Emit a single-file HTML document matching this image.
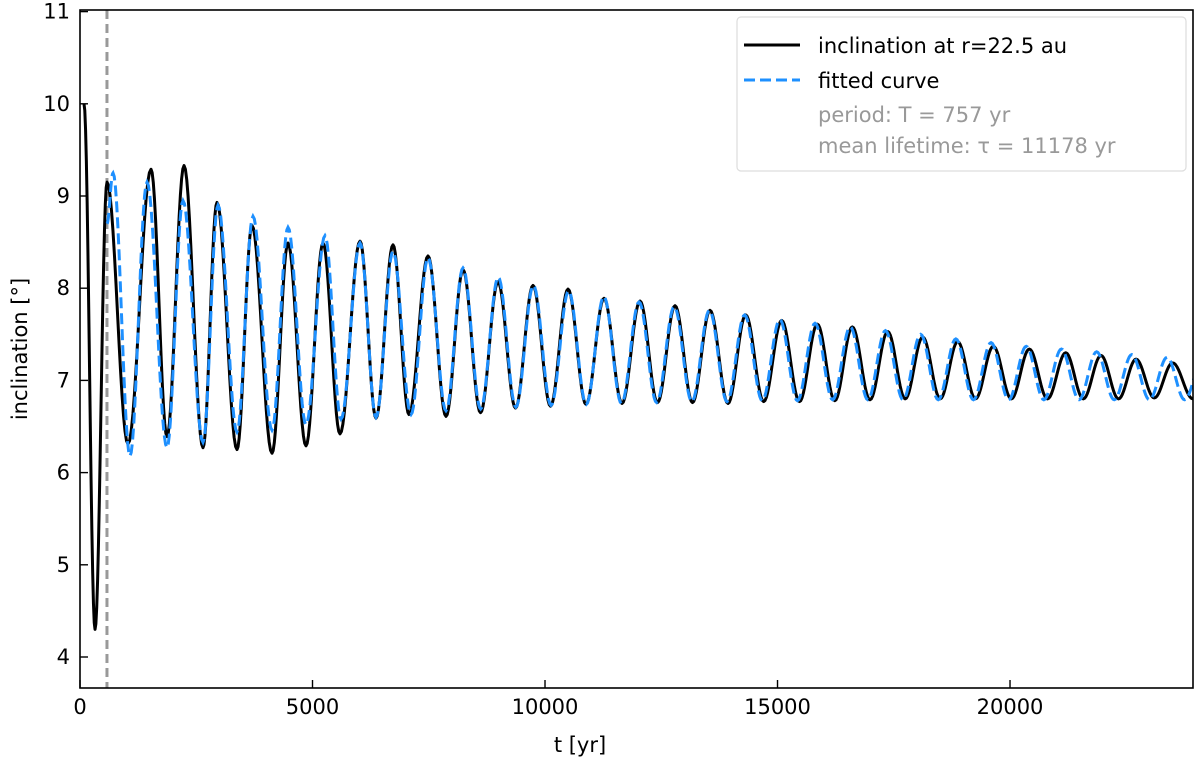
<!DOCTYPE html>
<html><head><meta charset="utf-8"><style>
body{margin:0;background:#fff;}
svg text{font-family:"DejaVu Sans","Liberation Sans",sans-serif;}
</style></head><body>
<svg id="chart" width="1200" height="763" xmlns="http://www.w3.org/2000/svg">
<defs><clipPath id="clip"><rect x="80" y="10" width="1113" height="678"/></clipPath></defs>
<g id="marks" clip-path="url(#clip)"></g>
<rect x="80" y="10" width="1113" height="678" fill="none" stroke="#000" stroke-width="1.6"/>
<g id="axes"></g>
<text x="580" y="752" font-size="21" text-anchor="middle">t [yr]</text>
<text transform="translate(27,349) rotate(-90)" font-size="21" text-anchor="middle">inclination [°]</text>
<g>
<rect x="737" y="17" width="449" height="154" rx="4" fill="#fff" fill-opacity="0.85" stroke="#ddd" stroke-width="1.2"/>
<line x1="744" y1="45" x2="800" y2="45" stroke="#000" stroke-width="3"/>
<text x="818" y="53" font-size="21">inclination at r=22.5 au</text>
<line x1="744" y1="80" x2="800" y2="80" stroke="#1e90ff" stroke-width="3" stroke-dasharray="11,5"/>
<text x="818" y="88" font-size="21">fitted curve</text>
<text x="818" y="122" font-size="21" fill="#999">period: T = 757 yr</text>
<text x="818" y="153" font-size="21" fill="#999">mean lifetime: τ = 11178 yr</text>
</g>
</svg>
<script>
const xTicks=[0,5000,10000,15000,20000];
const yTicks=[4,5,6,7,8,9,10,11];
const fitStart=580;
const simTimes=[86,323,581,1032,1527,1871,2237,2645,2946,3376,3699,4129,4473,4860,5226,5591,6022,6366,6731,7075,7484,7871,8237,8613,8989,9366,9742,10118,10495,10882,11269,11656,12043,12419,12796,13172,13548,13935,14316,14703,15090,15473,15856,16232,16609,16989,17370,17746,18123,18499,18875,19258,19641,20028,20415,20806,21198,21576,21957,22333,22710,23103,23497,23935];
const simValues=[10.0,4.3,9.15,6.31,9.29,6.39,9.33,6.27,8.93,6.25,8.68,6.21,8.49,6.29,8.49,6.42,8.51,6.59,8.47,6.63,8.35,6.61,8.20,6.65,8.07,6.7,8.03,6.72,7.99,6.74,7.89,6.75,7.86,6.76,7.81,6.76,7.76,6.75,7.71,6.77,7.65,6.77,7.61,6.78,7.58,6.79,7.53,6.8,7.47,6.8,7.42,6.8,7.37,6.8,7.34,6.8,7.30,6.8,7.27,6.8,7.23,6.81,7.19,6.8];
const fitTimes=[581,710,1075,1441,1871,2215,2645,2968,3376,3720,4129,4473,4860,5269,5613,6022,6366,6731,7118,7484,7871,8237,8616,8994,9373,9751,10130,10508,10887,11265,11644,12022,12401,12779,13158,13536,13915,14293,14672,15050,15429,15807,16186,16564,16943,17321,17700,18078,18457,18835,19214,19592,19971,20349,20728,21106,21485,21863,22242,22620,22999,23377,23756,24134];
const fitValues=[8.7,9.25,6.18,9.15,6.27,8.95,6.33,8.9,6.44,8.78,6.46,8.66,6.52,8.57,6.58,8.49,6.6,8.4,6.63,8.33,6.67,8.22,6.69,8.12,6.71,8.03,6.73,7.97,6.74,7.91,6.75,7.85,6.76,7.80,6.77,7.76,6.77,7.71,6.78,7.66,6.78,7.62,6.79,7.58,6.79,7.54,6.79,7.50,6.79,7.45,6.79,7.41,6.79,7.37,6.79,7.34,6.79,7.31,6.79,7.28,6.79,7.25,6.79,7.22];
const X=t=>80+(t/23935)*1113;
const Y=v=>657-(v-4)*92.2;
const NS='http://www.w3.org/2000/svg';
const marks=document.getElementById('marks'), axes=document.getElementById('axes');
function mk(tag,attrs,parent){const e=document.createElementNS(NS,tag);for(const k in attrs)e.setAttribute(k,attrs[k]);parent.appendChild(e);return e;}
function pathFrom(ts,vs){let d='M'+X(ts[0]).toFixed(2)+','+Y(vs[0]).toFixed(2);
 for(let i=0;i<ts.length-1;i++){for(let k=1;k<=14;k++){const s=k/14;const t=ts[i]+(ts[i+1]-ts[i])*s;const v=vs[i]+(vs[i+1]-vs[i])*(1-Math.cos(Math.PI*s))/2;d+='L'+X(t).toFixed(2)+','+Y(v).toFixed(2);}}
 return d;}
const vl=mk('line',{x1:X(fitStart),x2:X(fitStart),y1:10,y2:688,stroke:'#999','stroke-width':3,'stroke-dasharray':'9,5'},marks);


const sim=mk('path',{d:pathFrom(simTimes,simValues),fill:'none',stroke:'#000','stroke-width':3,'stroke-linejoin':'round'},marks);


const fit=mk('path',{d:pathFrom(fitTimes,fitValues),fill:'none',stroke:'#1e90ff','stroke-width':3,'stroke-dasharray':'11,5'},marks);


xTicks.forEach(t=>{const x=X(t);
 const l=mk('line',{x1:x,x2:x,y1:688,y2:680,stroke:'#000','stroke-width':1.4},axes);
 
 
 const tx=mk('text',{x:x,y:714,'font-size':21,'text-anchor':'middle'},axes);tx.textContent=t;
 
 });
yTicks.forEach(v=>{const y=Y(v);
 const l=mk('line',{x1:80,x2:88,y1:y,y2:y,stroke:'#000','stroke-width':1.4},axes);
 
 
 const tx=mk('text',{x:70,y:y+7,'font-size':21,'text-anchor':'end'},axes);tx.textContent=v;
 
 });
</script>
</body></html>
